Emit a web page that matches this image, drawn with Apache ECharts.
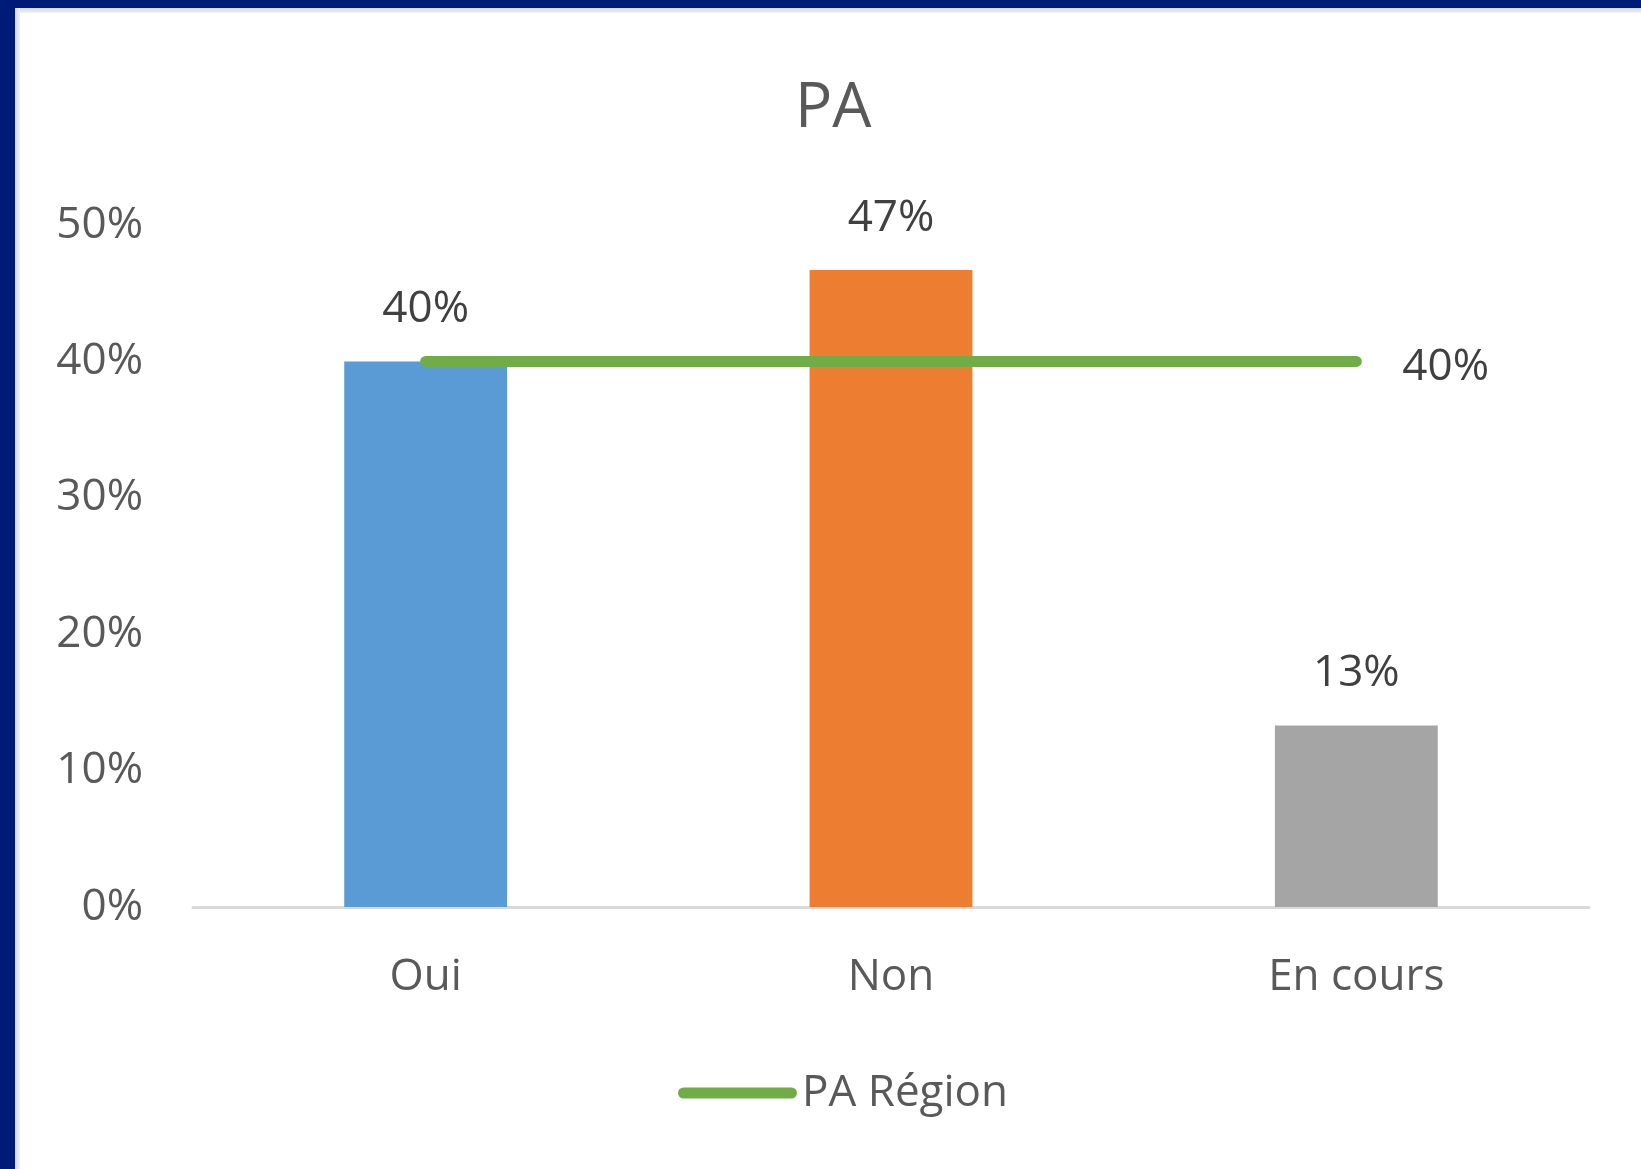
<!DOCTYPE html>
<html>
<head>
<meta charset="utf-8">
<script src="https://cdn.jsdelivr.net/npm/echarts@6/dist/echarts.min.js"></script>
<style>
  html, body { margin: 0; padding: 0; background: #ffffff; }
  #ChartDom { position: absolute; left: 0; top: 0; width: 1641px; height: 1169px; }
  .frame { position: absolute; pointer-events: none; }
</style>
</head>
<body>
<div id="ChartDom"></div>
<div class="frame" style="left:0;top:0;width:1641px;height:8px;background:#001A78"></div>
<div class="frame" style="left:0;top:0;width:15px;height:1169px;background:#001A78"></div>
<div class="frame" style="left:15px;top:8px;width:1626px;height:5px;background:linear-gradient(#d6d6d6,#f2f2f2)"></div>
<div class="frame" style="left:15px;top:8px;width:5px;height:1161px;background:linear-gradient(90deg,#d6d6d6,#f2f2f2)"></div>
<script>
const categories = ["Oui", "Non", "En cours"]
const barValues = [40, 46.7, 13.3]
const regionValues = [40, 40, 40]
const barColors = ["#5B9BD5", "#ED7D31", "#A5A5A5"]
const yTicks = { min: 0, max: 50, interval: 10 }

const font = "'Open Sans', 'Noto Sans', sans-serif"

const chartDom = document.getElementById("ChartDom")
const myChart = echarts.init(chartDom)
let option = {
  backgroundColor: "#ffffff",
  animation: false,
  title: {
    text: "PA",
    left: 790,
    top: 73,
    textStyle: {
      color: "#595959",
      fontSize: 62,
      fontWeight: "normal",
      fontFamily: font,
    },
  },
  legend: {
    data: [
      {
        name: "PA Région",
        // rounded thick stroke, like the Excel legend key
        icon: "path://M5.5,0H113.5A5.5,5.5,0,0,1,113.5,11H5.5A5.5,5.5,0,0,1,5.5,0Z",
        itemStyle: { color: "#70AD47" },
      },
    ],
    left: 673,
    top: 1066,
    itemWidth: 119,
    itemHeight: 11,
    textStyle: {
      color: "#595959",
      fontSize: 44,
      fontFamily: font,
    },
  },
  grid: {
    left: 193,
    right: 52,
    top: 225,
    bottom: 262,
  },
  xAxis: {
    type: "category",
    data: categories,
    axisLine: {
      show: true,
      lineStyle: { color: "#D9D9D9", width: 3 },
    },
    axisTick: { show: false },
    axisLabel: {
      color: "#595959",
      fontSize: 44,
      fontFamily: font,
      margin: 48,
    },
  },
  yAxis: {
    type: "value",
    min: yTicks.min,
    max: yTicks.max,
    interval: yTicks.interval,
    axisLine: { show: false },
    axisTick: { show: false },
    splitLine: { show: false },
    axisLabel: {
      color: "#595959",
      fontSize: 44,
      fontFamily: font,
      margin: 50,
      formatter: "{value}%",
    },
  },
  series: [
    {
      name: "PA",
      type: "bar",
      barWidth: "35%",
      data: barValues.map((v, i) => ({ value: v, itemStyle: { color: barColors[i] } })),
      label: {
        show: true,
        position: "top",
        distance: 30,
        color: "#404040",
        fontSize: 44,
        fontFamily: font,
        formatter: (p) => Math.round(p.value) + "%",
      },
    },
    {
      name: "PA Région",
      type: "line",
      data: regionValues,
      symbol: "none",
      color: "#70AD47",
      lineStyle: { color: "#70AD47", width: 11, cap: "round" },
      endLabel: {
        show: true,
        distance: 46,
        offset: [0, 6],
        color: "#404040",
        fontSize: 44,
        fontFamily: font,
        formatter: (p) => Math.round(p.value) + "%",
      },
    },
  ],
}
myChart.setOption(option)
</script>
</body>
</html>
